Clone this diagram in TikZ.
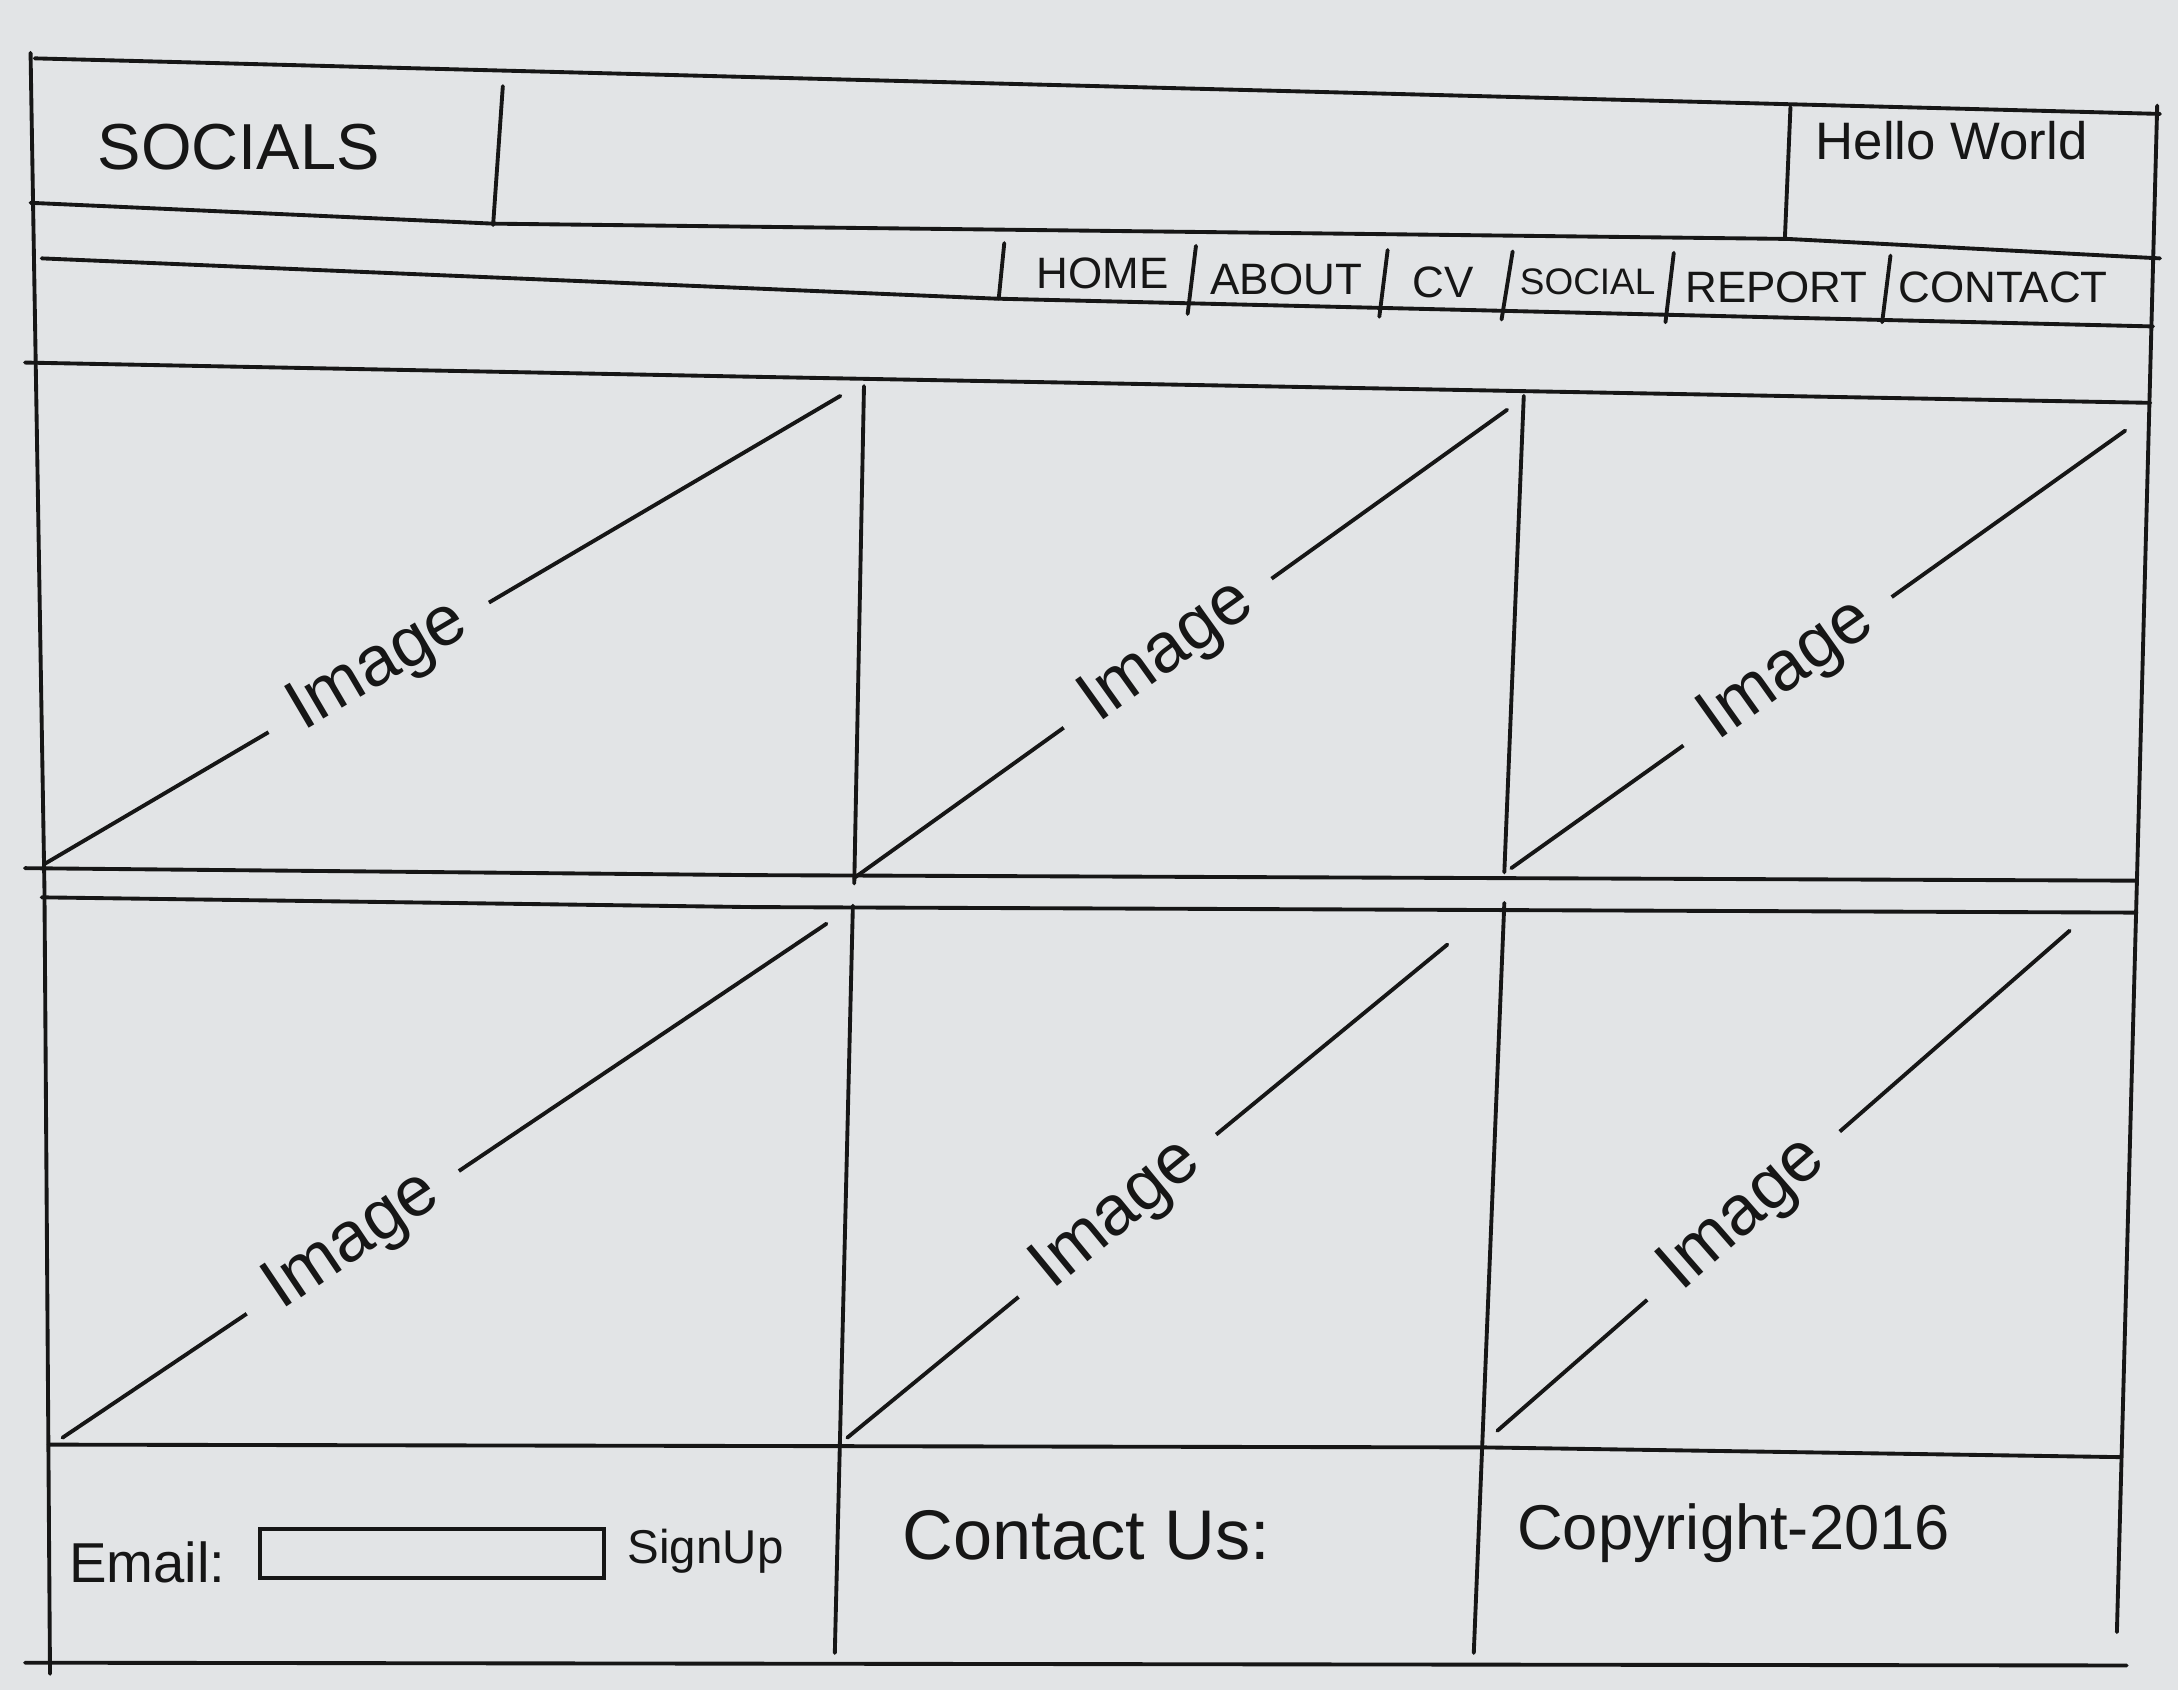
\documentclass[tikz,border=0pt]{standalone}
\usepackage{fontspec}
\setmainfont{Liberation Sans}
\definecolor{paper}{RGB}{226,228,230}
\definecolor{ink}{RGB}{22,22,22}

\begin{document}
\begin{tikzpicture}[x=0.01389cm, y=-0.01389cm]
        \tikzstyle{pen}=[draw=ink, line width=1.1pt, line cap=round]
        \tikzstyle{hand}=[text=ink, inner sep=1pt]
        \tikzstyle{navtext}=[hand, font=\fontsize{12.5}{14}\selectfont]
        \tikzstyle{imgtext}=[hand, fill=paper, sloped, inner xsep=3mm, font=\fontsize{20}{24}\selectfont]
        \tikzstyle{foottext}=[hand, font=\fontsize{18}{22}\selectfont]
        \fill[paper] (0,0) rectangle (1568,1217);
        \useasboundingbox (0,0) rectangle (1568,1217);
        % frame
        \draw[pen] (25,42) -- (1555,82);
        \draw[pen] (22,38) -- (32,640) -- (36,1205);
        \draw[pen] (1553,76) -- (1538,650) -- (1524,1175);
        \draw[pen] (18,1197) -- (1531,1199);
        % header
        \draw[pen] (362,62) -- (355,162);
        \draw[pen] (22,146) -- (355,161) -- (1287,172) -- (1555,186);
        \draw[pen] (1289,77) -- (1285,171);
        \node[hand, font=\fontsize{18.5}{22}\selectfont] (brand) at (172,106) {SOCIALS};
        \node[hand, font=\fontsize{15}{18}\selectfont] (greet) at (1405,101) {Hello World};
        % nav bar
        \draw[pen] (30,186) -- (717,215) -- (1550,235);
        \draw[pen] (723,175) -- (719,215);
        \draw[pen] (861,177) -- (855,226);
        \draw[pen] (999,180) -- (993,228);
        \draw[pen] (1089,181) -- (1081,230);
        \draw[pen] (1205,182) -- (1199,232);
        \draw[pen] (1361,184) -- (1355,232);
        \node[navtext] (home) at (794,197) {HOME};
        \node[navtext] (about) at (926,201) {ABOUT};
        \node[navtext] (cv) at (1039,203) {CV};
        \node[navtext, font=\fontsize{10.5}{12}\selectfont] (social) at (1143,203) {SOCIAL};
        \node[navtext] (report) at (1279,207) {REPORT};
        \node[navtext] (contact) at (1442,207) {CONTACT};
        % image grid
        \draw[pen] (18,261) -- (530,271) -- (1548,290);
        \draw[pen] (622,278) -- (615,636);
        \draw[pen] (1097,285) -- (1083,628);
        \draw[pen] (18,625) -- (540,630) -- (1538,634);
        \draw[pen] (30,646) -- (540,653) -- (1538,657);
        \draw[pen] (614,652) -- (601,1190);
        \draw[pen] (1083,650) -- (1061,1190);
        \draw[pen] (35,1040) -- (1069,1042) -- (1526,1049);
        \draw[pen] (32,622) -- node[imgtext, pos=.42] (img1) {Image} (605,285);
        \draw[pen] (615,632) -- node[imgtext, pos=.48] (img2) {Image} (1085,295);
        \draw[pen] (1088,625) -- node[imgtext, pos=.45] (img3) {Image} (1530,310);
        \draw[pen] (45,1035) -- node[imgtext, pos=.38] (img4) {Image} (595,665);
        \draw[pen] (610,1035) -- node[imgtext, pos=.45] (img5) {Image} (1042,680);
        \draw[pen] (1078,1030) -- node[imgtext, pos=.43] (img6) {Image} (1490,670);
        % footer
        \node[foottext, font=\fontsize{16}{19}\selectfont] (email) at (106,1125) {Email:};
        \draw[pen] (187,1101) rectangle (435,1136);
        \node[foottext, font=\fontsize{13.5}{16}\selectfont] (signup) at (508,1117) {SignUp};
        \node[foottext, font=\fontsize{20}{24}\selectfont] (contactus) at (782,1105) {Contact Us:};
        \node[foottext] (copy) at (1248,1104) {Copyright-2016};
\end{tikzpicture}
\end{document}
